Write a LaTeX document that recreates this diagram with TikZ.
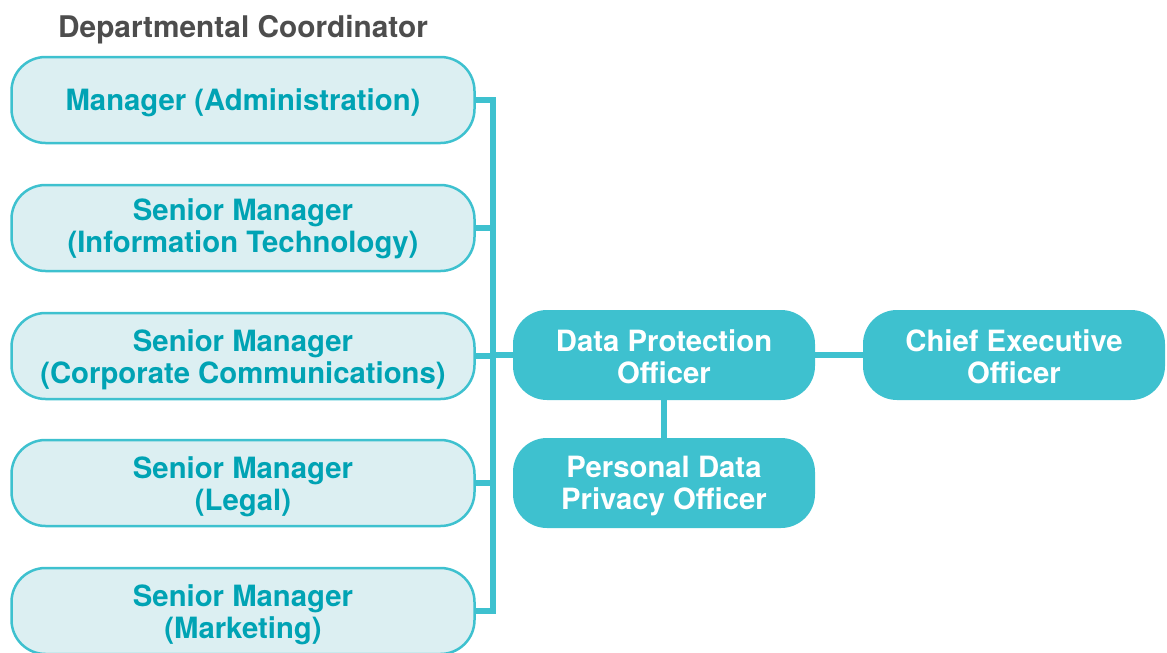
\documentclass[tikz,border=0pt]{standalone}
\usepackage{fontspec}
\setmainfont{TeX Gyre Heros}
\definecolor{teal1}{HTML}{3EC1CF}
\definecolor{tealtext}{HTML}{00A3B4}
\definecolor{lightfill}{HTML}{DCEFF2}
\definecolor{titlegray}{HTML}{4D4D4D}
\newcommand{\lowr}[2]{\raisebox{-#1pt}[\height][\depth]{#2}}
\begin{document}
\begin{tikzpicture}[x=1pt,y=-1pt,
  mgr/.style={draw=teal1, line width=2.5pt, fill=lightfill, rounded corners=34pt,
    minimum width=463pt, minimum height=86pt, inner sep=0pt, align=center,
    text=tealtext, font=\fontsize{29.3}{32}\selectfont\bfseries},
  officer/.style={fill=teal1, rounded corners=34pt,
    minimum width=302pt, minimum height=90pt, inner sep=0pt, align=center,
    text=white, font=\fontsize{29.3}{32}\selectfont\bfseries},
  conn/.style={draw=teal1, line width=6pt, line join=miter}]
\clip (0,0) rectangle (1167,653);
\useasboundingbox (0,0) rectangle (1167,653);
\node[font=\fontsize{29.8}{32}\selectfont\bfseries, text=titlegray, anchor=base] (title) at (243,37) {Departmental Coordinator};
\node[mgr] (m1) at (243,100) {\lowr{3}{Manager (Administration)}};
\node[mgr] (m2) at (243,228) {\lowr{0.5}{Senior Manager}\\\lowr{0.5}{(Information Technology)}};
\node[mgr] (m3) at (243,356) {\lowr{3.5}{Senior Manager}\\\lowr{3.5}{(Corporate Communications)}};
\node[mgr] (m4) at (243,483) {\lowr{3.5}{Senior Manager}\\\lowr{3.5}{(Legal)}};
\node[mgr] (m5) at (243,611) {\lowr{3.5}{Senior Manager}\\\lowr{3.5}{(Marketing)}};
\node[officer] (dpo) at (664,355) {\lowr{1.5}{Data Protection}\\\lowr{1.5}{Officer}};
\node[officer] (pdpo) at (664,483) {\lowr{3.5}{Personal Data}\\\lowr{3.5}{Privacy Officer}};
\node[officer] (ceo) at (1014,355) {\lowr{1.5}{Chief Executive}\\\lowr{1.5}{Officer}};
\coordinate (bt) at (493,100);
\coordinate (bb) at (493,611);
\draw[conn] (m1.east) -- (bt) -- (bb) -- (m5.east);
\draw[conn] (m2.east) -- (m2.east -| bt);
\draw[conn] (m3.east) -- (m3.east -| bt);
\draw[conn] (m4.east) -- (m4.east -| bt);
\draw[conn] (dpo.west) -- (dpo.west -| bt);
\draw[conn] (dpo.east) -- (ceo.west);
\draw[conn] (dpo.south) -- (pdpo.north);
\end{tikzpicture}
\end{document}
